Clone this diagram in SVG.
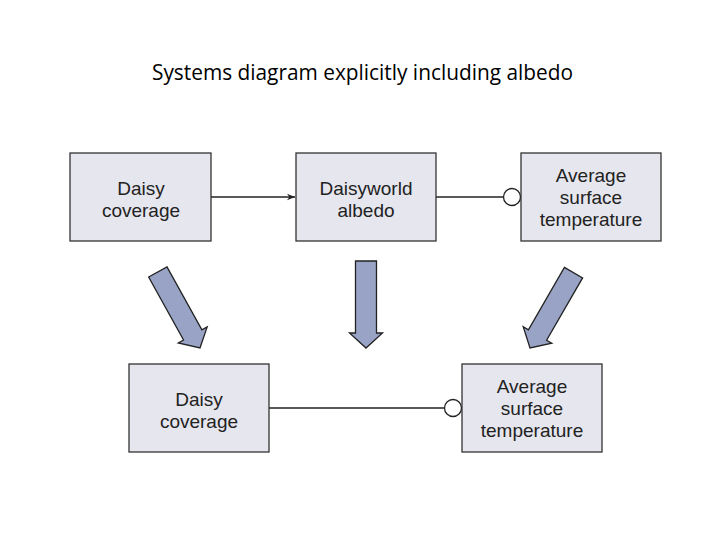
<svg xmlns="http://www.w3.org/2000/svg" width="720" height="540" viewBox="0 0 720 540">
<defs>
<style>
.box{fill:#e6e6ee;stroke:#333;stroke-width:1.3}
.lbl{font-family:"Liberation Sans",Arial,sans-serif;font-size:19px;fill:#222;text-anchor:middle}
.title{font-family:"Open Sans","Liberation Sans",sans-serif;font-size:21px;fill:#000}
.line{stroke:#222;stroke-width:1.3;fill:none}
.circ{fill:#fff;stroke:#222;stroke-width:1.3}
.blk{fill:#98a3c6;stroke:#222;stroke-width:1.3;stroke-linejoin:miter}
</style>
<marker id="ah" viewBox="0 0 10 10" refX="10" refY="5" markerWidth="10" markerHeight="8" markerUnits="userSpaceOnUse" orient="auto">
<path d="M0,1 L10,5 L0,9 L3,5 Z" fill="#222"/>
</marker>
<path id="barrow" d="M-10.5,-87 L10.5,-87 L10.5,-15 L16.5,-15 L0,0 L-16.5,-15 L-10.5,-15 Z"/>
</defs>
<rect width="720" height="540" fill="#fff"/>
<text class="title" x="152" y="80" textLength="421" lengthAdjust="spacingAndGlyphs">Systems diagram explicitly including albedo</text>

<g id="connectors">
<line class="line" x1="211" y1="197" x2="295" y2="197" marker-end="url(#ah)"/>
<line class="line" x1="436" y1="197" x2="503.5" y2="197"/>
<circle class="circ" cx="512" cy="197" r="8.5"/>
<line class="line" x1="269" y1="408" x2="444.5" y2="408"/>
<circle class="circ" cx="453" cy="408" r="8.5"/>
<use href="#barrow" class="blk" transform="translate(200,348) rotate(-29)"/>
<use href="#barrow" class="blk" transform="translate(366,348)"/>
<use href="#barrow" class="blk" transform="translate(530,348) rotate(30)"/>
</g>

<g id="daisy-coverage-top">
<rect class="box" x="70" y="153" width="141" height="88"/>
<text class="lbl" x="141" y="195">Daisy</text>
<text class="lbl" x="141" y="217">coverage</text>
</g>
<g id="daisyworld-albedo">
<rect class="box" x="296" y="153" width="140" height="88"/>
<text class="lbl" x="366" y="195">Daisyworld</text>
<text class="lbl" x="366" y="217">albedo</text>
</g>
<g id="avg-temp-top">
<rect class="box" x="521" y="153" width="140" height="88"/>
<text class="lbl" x="591" y="182">Average</text>
<text class="lbl" x="591" y="204">surface</text>
<text class="lbl" x="591" y="226">temperature</text>
</g>
<g id="daisy-coverage-bottom">
<rect class="box" x="129" y="364" width="140" height="88"/>
<text class="lbl" x="199" y="406">Daisy</text>
<text class="lbl" x="199" y="428">coverage</text>
</g>
<g id="avg-temp-bottom">
<rect class="box" x="462" y="364" width="140" height="88"/>
<text class="lbl" x="532" y="393">Average</text>
<text class="lbl" x="532" y="415">surface</text>
<text class="lbl" x="532" y="437">temperature</text>
</g>
</svg>
